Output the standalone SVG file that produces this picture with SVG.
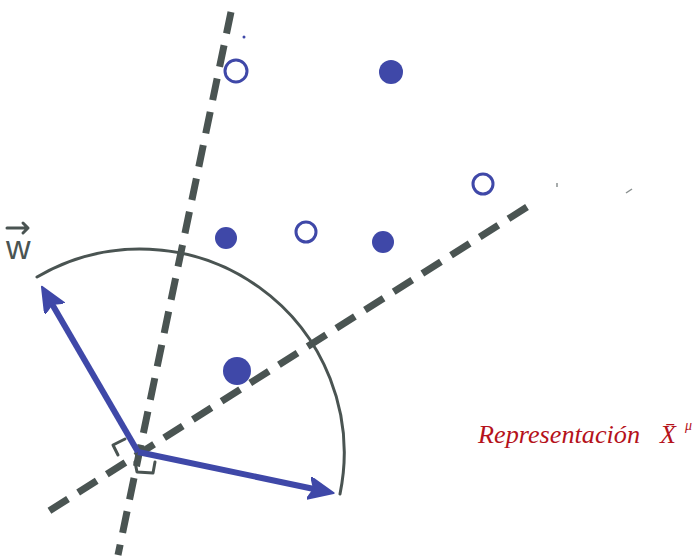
<svg xmlns="http://www.w3.org/2000/svg" width="699" height="560" viewBox="0 0 699 560">
<style>
.dash{stroke:#4a5452;stroke-width:7;stroke-dasharray:22 12;fill:none}
.vec{stroke:#3f48a8;stroke-width:6;fill:none}
.gray{stroke:#4a5452;stroke-width:3;fill:none;stroke-linecap:round;stroke-linejoin:round}
.open{fill:#fff;stroke:#3f48a8;stroke-width:3}
.fill{fill:#3f48a8}
.red{font-family:"Liberation Serif",serif;font-style:italic;fill:#b5121b}
</style>
<defs>
<marker id="ah" markerWidth="28" markerHeight="24" refX="5" refY="11" orient="auto" markerUnits="userSpaceOnUse">
<path d="M0,0 L25,11 L0,22 L5,11 Z" fill="#3f48a8" stroke="#3f48a8" stroke-width="2" stroke-linejoin="round"/>
</marker>
</defs>
<rect width="699" height="560" fill="#fff"/>
<g id="connectors">
<line class="dash" x1="231" y1="12" x2="118" y2="555"/>
<line class="dash" x1="527" y1="207" x2="46" y2="513"/>
<path class="gray" d="M37,277 A204,204 0 0 1 340,494"/>
<line class="vec" x1="138" y1="452" x2="52" y2="304" marker-end="url(#ah)"/>
<line class="vec" x1="138" y1="452" x2="314" y2="489" marker-end="url(#ah)"/>
<path class="gray" d="M118,455 L113,445 L125,439"/>
<path class="gray" d="M135,462 L137,472 L153,473 L155,462"/>
</g>
<g id="points">
<circle class="open" cx="236" cy="71" r="11"/>
<circle class="fill" cx="391" cy="72" r="12"/>
<circle class="open" cx="483" cy="184" r="10"/>
<circle class="fill" cx="226" cy="238" r="11"/>
<circle class="open" cx="306" cy="232" r="10"/>
<circle class="fill" cx="383" cy="242" r="11"/>
<circle class="fill" cx="237" cy="371" r="14"/>
<circle class="fill" cx="244" cy="37" r="1.5"/>
<path d="M557,183 L557,187" stroke="#8a9090" stroke-width="1.5"/>
<path d="M626,193 L632,189" stroke="#8a9090" stroke-width="1.5"/>
</g>
<g id="label-w">
<path class="gray" d="M7,228 L28,228 M23,223 L28,228 L23,233"/>
<text x="6" y="259" font-family="Liberation Sans,sans-serif" font-size="34" fill="#4a5452">w</text>
</g>
<g id="label-rep">
<text class="red" x="478" y="443" font-size="26" textLength="162" lengthAdjust="spacingAndGlyphs">Representación</text>
<text class="red" x="660" y="443" font-size="26">X̄</text>
<text class="red" x="685" y="430" font-size="14">μ</text>
</g>
</svg>
